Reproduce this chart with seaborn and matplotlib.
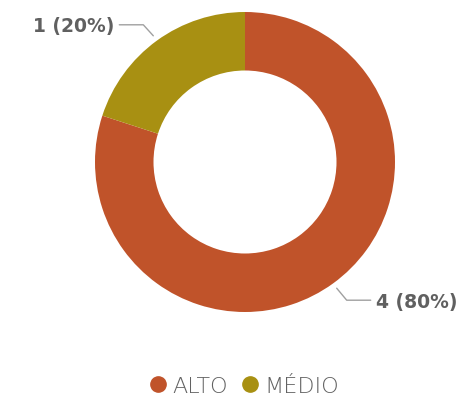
import numpy as np
import matplotlib.pyplot as plt
import seaborn as sns
from matplotlib.lines import Line2D

# data
categories = ['ALTO', 'MÉDIO']
counts = [4, 1]
colors = ['#C0532A', '#A89012']

sns.set_style('white')
plt.rcParams['font.family'] = ['DejaVu Sans']

fig = plt.figure(figsize=(4.77, 4.06), dpi=100)
ax = fig.add_axes([0, 0, 1, 1])

# pixel-like coordinates (y up)
cx, cy, r = 245, 406 - 163, 150
wedges, _ = ax.pie(counts, colors=colors, startangle=90, counterclock=False,
                   center=(cx, cy), radius=r, frame=True,
                   wedgeprops=dict(width=r * 0.39, linewidth=0))
ax.set_xlim(0, 477)
ax.set_ylim(0, 406)
ax.set_aspect('equal')
ax.axis('off')

total = sum(counts)
for w, n in zip(wedges, counts):
    ang = np.deg2rad((w.theta1 + w.theta2) / 2)
    x0 = cx + (r + 6) * np.cos(ang)
    y0 = cy + (r + 6) * np.sin(ang)
    side = 1 if np.cos(ang) > 0 else -1
    ex = x0 + side * 10
    ey = y0 + (11 if np.sin(ang) > 0 else -12)
    hx = ex + side * 24
    ax.plot([x0, ex, hx], [y0, ey, ey], color='#a0a0a0', lw=1)
    ax.text(hx + side * 5, ey - 1, f'{n} ({n / total:.0%})',
            ha='left' if side > 0 else 'right', va='center',
            fontsize=13.5, fontweight='bold', color='#606060')

handles = [Line2D([], [], marker='o', ls='', markersize=11, color=c) for c in colors]
ax.legend(handles, categories, loc='center', bbox_to_anchor=(0.508, 0.047),
          ncol=2, frameon=False, handletextpad=0.1, columnspacing=0.45,
          handlelength=1.1, prop={'size': 16, 'weight': 'light'},
          labelcolor='#626262')

fig.savefig('out.png', dpi=100)
